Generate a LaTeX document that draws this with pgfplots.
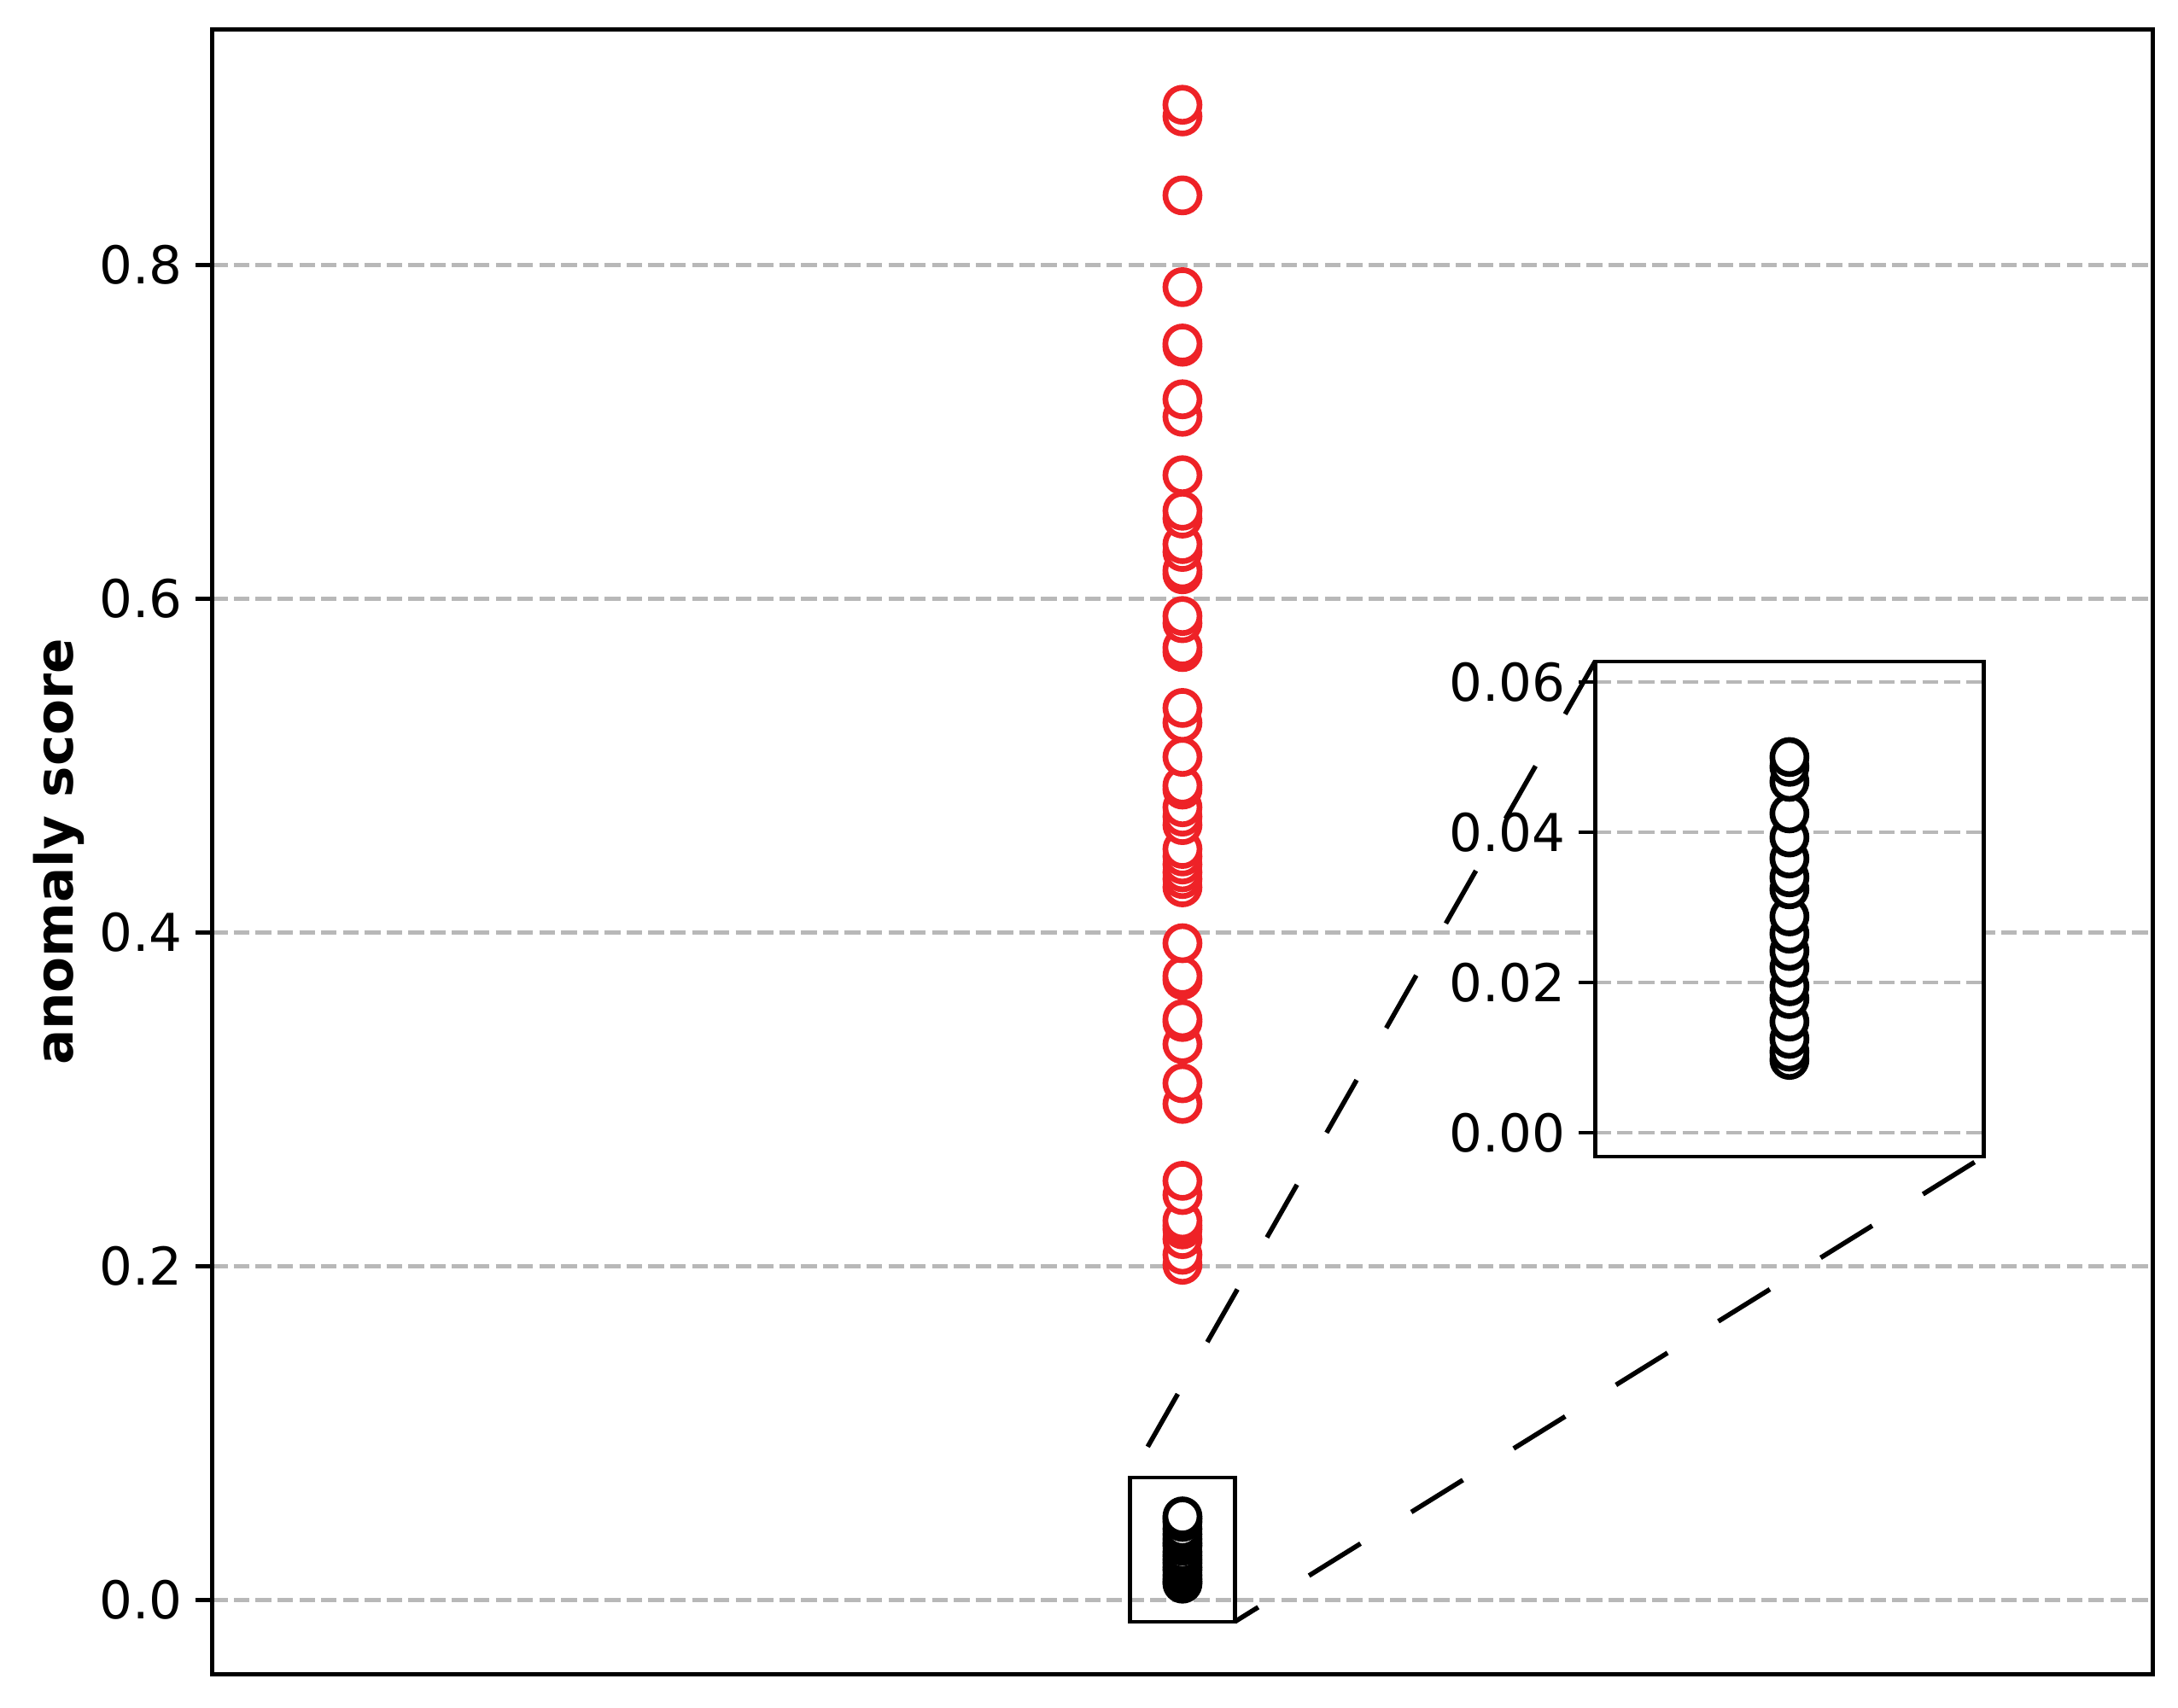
\documentclass[border=0pt]{standalone}
\usepackage{fontspec}
\setmainfont{DejaVu Sans}
\usepackage{pgfplots}
\pgfplotsset{compat=1.18}
\usepackage{pgfplotstable}

\definecolor{scorered}{RGB}{238,34,39}
\definecolor{gridgray}{HTML}{B8B8B8}

% anomaly scores, all at x = 0
\pgfplotstableread{
x y
0 0.2008
0 0.2068
0 0.2162
0 0.2220
0 0.2244
0 0.2273
0 0.2426
0 0.2511
0 0.2972
0 0.3096
0 0.3330
0 0.3463
0 0.3480
0 0.3715
0 0.3739
0 0.3935
0 0.4270
0 0.4320
0 0.4360
0 0.4407
0 0.4455
0 0.4500
0 0.4643
0 0.4694
0 0.4750
0 0.4856
0 0.4880
0 0.5052
0 0.5256
0 0.5345
0 0.5680
0 0.5708
0 0.5853
0 0.5896
0 0.6146
0 0.6170
0 0.6280
0 0.6327
0 0.6480
0 0.6527
0 0.6740
0 0.7090
0 0.7195
0 0.7510
0 0.7529
0 0.7867
0 0.8417
0 0.8890
0 0.8960
}\highscores

\pgfplotstableread{
x y
0 0.0097
0 0.0108
0 0.0125
0 0.0148
0 0.0178
0 0.0195
0 0.0220
0 0.0242
0 0.0265
0 0.0288
0 0.0324
0 0.0340
0 0.0365
0 0.0393
0 0.0425
0 0.0467
0 0.0487
0 0.0500
}\lowscores

\pgfplotsset{
  scorebase/.style={
    scale only axis,
    xmin=-1, xmax=1,
    xtick=\empty,
    ytick pos=left,
    tick align=outside,
    major tick length=3.5pt,
    tick style={line width=0.8pt, black},
    axis line style={line width=0.8pt},
    ymajorgrids,
    grid style={gridgray, line width=0.8pt, dash pattern=on 3.3pt off 1.3pt},
    scaled y ticks=false,
    /pgf/number format/assume math mode=true,
    tick label style={font=\fontsize{11}{13}\selectfont},
    yticklabel style={xshift=0.8pt, /pgf/number format/fixed, /pgf/number format/fixed zerofill},
  },
  scoremark/.style={only marks, mark=*, mark size=3.6pt,
    mark options={draw=#1, fill=white, line width=1.2pt}},
}

\begin{document}
\begin{tikzpicture}
\useasboundingbox (0,0) rectangle (459.18pt,360.18pt);

\begin{axis}[
  scorebase,
  at={(44.69pt,7.08pt)}, anchor=south west,
  width=409.2pt, height=346.9pt,
  ymin=-0.0447, ymax=0.9412,
  ytick={0,0.2,0.4,0.6,0.8},
  yticklabel style={/pgf/number format/precision=1},
  ylabel={\bfseries anomaly score},
  ylabel style={at={(axis description cs:-0.0716,0.5)}, anchor=base, font=\fontsize{11}{13}\selectfont},
]
\addplot[scoremark=scorered] table[x=x, y=y] {\highscores};
\addplot[scoremark=black] table[x=x, y=y] {\lowscores};
\draw[line width=0.8pt] (axis cs:-0.054,-0.0131) rectangle (axis cs:0.054,0.0732);
\coordinate (zoomTL) at (axis cs:-0.054,0.0732);
\coordinate (zoomBR) at (axis cs:0.054,-0.0131);
\end{axis}

\begin{axis}[
  scorebase,
  at={(336.3pt,116.3pt)}, anchor=south west,
  width=81.9pt, height=104.4pt,
  ymin=-0.00315, ymax=0.06273,
  ytick={0,0.02,0.04,0.06},
  yticklabel style={/pgf/number format/precision=2},
  axis background/.style={fill=white},
]
\addplot[scoremark=black] table[x=x, y=y] {\lowscores};
\coordinate (insetTL) at (rel axis cs:0,1);
\coordinate (insetBR) at (rel axis cs:1,0);
\end{axis}

\draw[line width=1pt, dash pattern=on 12.8pt off 12.6pt] (insetTL) -- (zoomTL);
\draw[line width=1pt, dash pattern=on 12.8pt off 12.6pt, dash phase=7pt] (zoomBR) -- (insetBR);
\end{tikzpicture}
\end{document}
